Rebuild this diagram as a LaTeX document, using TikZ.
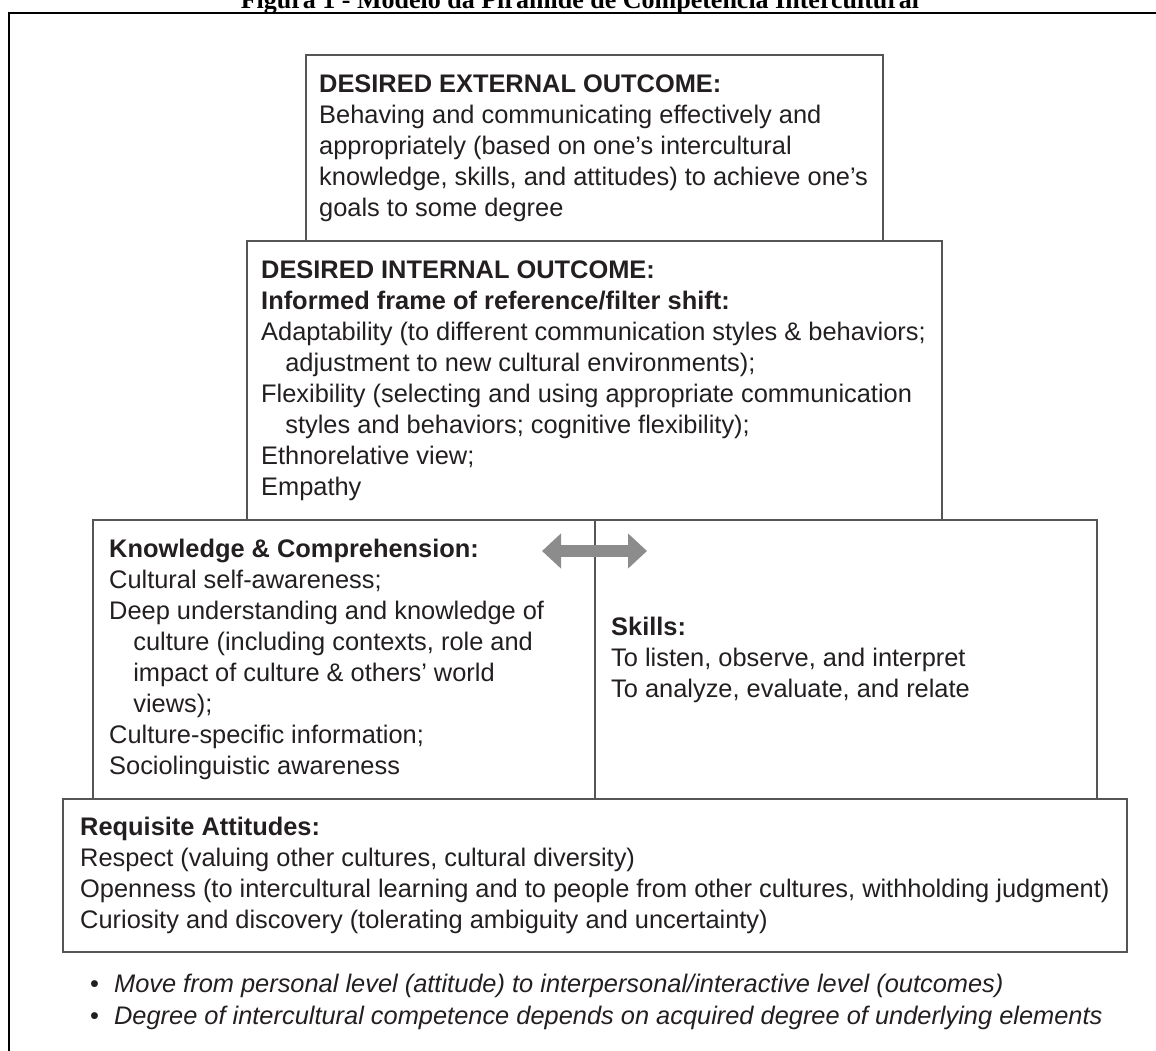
\documentclass[tikz,border=0pt]{standalone}
\usepackage{fontspec}
\setmainfont{Liberation Sans}
\newfontfamily\titlefont{Liberation Serif}
\usepackage{xcolor}
\usetikzlibrary{arrows.meta}
\usetikzlibrary{positioning}
\definecolor{ink}{HTML}{231F20}
\definecolor{boxline}{HTML}{555555}
\definecolor{arrowgray}{HTML}{8C8C8C}

\begin{document}
\begin{tikzpicture}[x=1pt, y=-1pt,
  tier/.style={draw=boxline, line width=2pt, inner sep=0pt},
  tiertext/.style={text=ink, align=left, inner sep=0pt, font=\fontsize{25.4}{31}\selectfont},
  note/.style={text=ink, anchor=base west, inner sep=0pt, font=\fontsize{25.4}{31}\selectfont\itshape}]
  \useasboundingbox (0,0) rectangle (1156,1051);
  \clip (0,0) rectangle (1156,1051);
  % title and frame
  \node[anchor=base, inner sep=0pt, font=\fontsize{26}{30}\selectfont\titlefont\bfseries] (title) at (580,9) {Figura 1 - Modelo da Pirâmide de Competência Intercultural};
  \draw[black, line width=2pt] (9,1070) -- (9,13) -- (1170,13);
  % boxes of the pyramid
  \node[tier, minimum width=577pt, minimum height=186pt] (external) at (594.5,148) {};
  \node[tier, minimum width=695pt, minimum height=279pt] (internal) at (594.5,380.5) {};
  \node[tier, minimum width=502pt, minimum height=279pt] (knowledge) at (344,659.5) {};
  \node[tier, minimum width=502pt, minimum height=279pt] (skills) at (846,659.5) {};
  \node[tier, minimum width=1064pt, minimum height=153pt] (attitudes) at (595,875.5) {};
  % texts
  \node[tiertext, right=14pt of external.west] (externaltext) {\textbf{DESIRED EXTERNAL OUTCOME:}\\
    Behaving and communicating effectively and\\
    appropriately (based on one’s intercultural\\
    knowledge, skills, and attitudes) to achieve one’s\\
    goals to some degree};
  \node[tiertext, right=15pt of internal.west] (internaltext) {\textbf{DESIRED INTERNAL OUTCOME:}\\
    \textbf{Informed frame of reference/filter shift:}\\
    Adaptability (to different communication styles \& behaviors;\\
    \hspace*{0.95em}adjustment to new cultural environments);\\
    Flexibility (selecting and using appropriate communication\\
    \hspace*{0.95em}styles and behaviors; cognitive flexibility);\\
    Ethnorelative view;\\
    Empathy};
  \node[tiertext, right=17pt of knowledge.west] (knowledgetext) {\textbf{Knowledge \& Comprehension:}\\
    Cultural self-awareness;\\
    Deep understanding and knowledge of\\
    \hspace*{0.95em}culture (including contexts, role and\\
    \hspace*{0.95em}impact of culture \& others’ world\\
    \hspace*{0.95em}views);\\
    Culture-specific information;\\
    Sociolinguistic awareness};
  \node[tiertext, right=17pt of skills.west] (skillstext) {\textbf{Skills:}\\
    To listen, observe, and interpret\\
    To analyze, evaluate, and relate};
  \node[tiertext, right=18pt of attitudes.west] (attitudestext) {\textbf{Requisite Attitudes:}\\
    Respect (valuing other cultures, cultural diversity)\\
    Openness (to intercultural learning and to people from other cultures, withholding judgment)\\
    Curiosity and discovery (tolerating ambiguity and uncertainty)};
  % double arrow between knowledge and skills
  \coordinate (leftTip) at (542,551);
  \coordinate (rightTip) at (647,551);
  \draw[arrowgray, line width=12pt, {Triangle[length=19pt,width=34pt]}-{Triangle[length=19pt,width=34pt]}] (leftTip) -- (rightTip);
  % notes below
  \node[note] (movenote) at (90,992) {{\upshape •}\hspace{15pt}Move from personal level (attitude) to interpersonal/interactive level (outcomes)};
  \node[note] (degreenote) at (90,1024) {{\upshape •}\hspace{15pt}Degree of intercultural competence depends on acquired degree of underlying elements};
\end{tikzpicture}
\end{document}
